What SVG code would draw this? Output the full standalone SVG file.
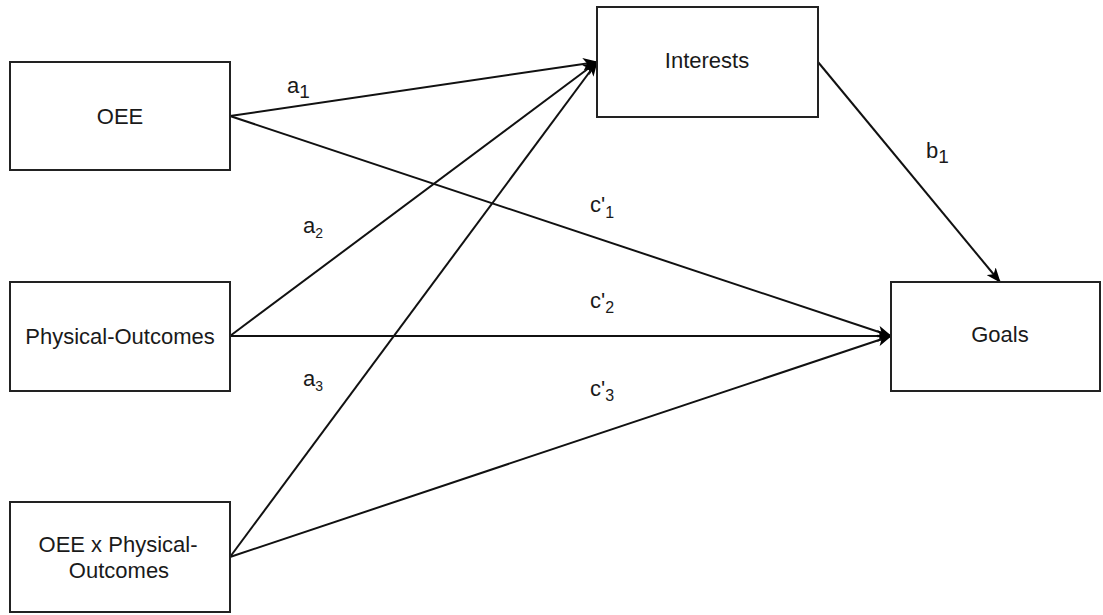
<svg xmlns="http://www.w3.org/2000/svg" width="1103" height="615" viewBox="0 0 1103 615">
<style>
.box{fill:#fff;stroke:#222;stroke-width:2}
.t{font-family:"Liberation Sans",Arial,sans-serif;font-size:22px;fill:#1a1a1a;text-anchor:middle}
.l{font-family:"Liberation Sans",Arial,sans-serif;font-size:22px;fill:#1a1a1a}
.c{fill:none;stroke:#111;stroke-width:2}
</style>
<defs>
<marker id="arr" viewBox="0 0 15 12" refX="14" refY="6" markerWidth="15" markerHeight="12" markerUnits="userSpaceOnUse" orient="auto">
<path d="M0,0 L15,6 L0,12 L4,6 z" fill="#000"/>
</marker>
</defs>
<rect width="1103" height="615" fill="#fff"/>
<g id="connectors">
<line class="c" x1="230" y1="116" x2="597" y2="62" marker-end="url(#arr)"/>
<line class="c" x1="230" y1="336" x2="597" y2="62" marker-end="url(#arr)"/>
<line class="c" x1="230" y1="557" x2="597" y2="62" marker-end="url(#arr)"/>
<line class="c" x1="230" y1="116" x2="891" y2="336" marker-end="url(#arr)"/>
<line class="c" x1="230" y1="336" x2="891" y2="336" marker-end="url(#arr)"/>
<line class="c" x1="230" y1="557" x2="891" y2="336" marker-end="url(#arr)"/>
<line class="c" x1="818" y1="62" x2="1000" y2="282" marker-end="url(#arr)"/>
</g>
<g id="labels">
<text class="l" x="287" y="93">a<tspan font-size="19" dy="5">1</tspan></text>
<text class="l" x="303" y="233">a<tspan font-size="14" dy="5">2</tspan></text>
<text class="l" x="303" y="386">a<tspan font-size="14" dy="5">3</tspan></text>
<text class="l" x="590" y="212">c'<tspan font-size="16" dy="6">1</tspan></text>
<text class="l" x="590" y="308">c'<tspan font-size="16" dy="5">2</tspan></text>
<text class="l" x="590" y="396">c'<tspan font-size="16" dy="5">3</tspan></text>
<text class="l" x="926" y="158">b<tspan font-size="19" dy="5">1</tspan></text>
</g>
<g id="node-oee">
<rect class="box" x="10" y="62" width="220" height="108"/>
<text class="t" x="120" y="124">OEE</text>
</g>
<g id="node-physical">
<rect class="box" x="10" y="282" width="220" height="109"/>
<text class="t" x="120" y="344">Physical-Outcomes</text>
</g>
<g id="node-interaction">
<rect class="box" x="10" y="502" width="220" height="110"/>
<text class="t" x="118" y="552">OEE x Physical-</text>
<text class="t" x="119" y="578">Outcomes</text>
</g>
<g id="node-interests">
<rect class="box" x="597" y="7" width="221" height="110"/>
<text class="t" x="707" y="68">Interests</text>
</g>
<g id="node-goals">
<rect class="box" x="891" y="282" width="209" height="109"/>
<text class="t" x="1000" y="342">Goals</text>
</g>
</svg>
